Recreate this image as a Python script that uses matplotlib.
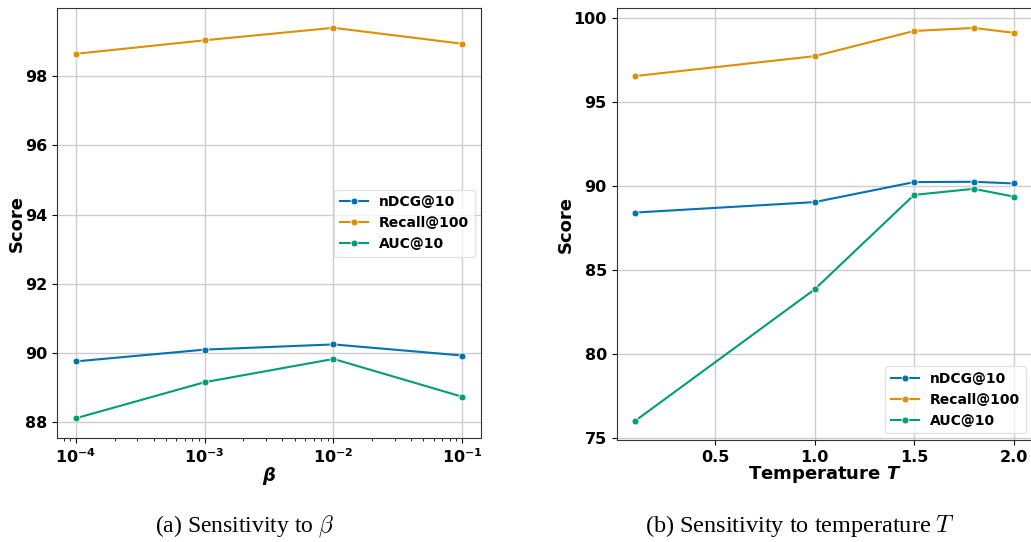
import matplotlib
matplotlib.use("Agg")
import matplotlib.pyplot as plt
import numpy as np

# sensitivity to beta
betas = [1e-4, 1e-3, 1e-2, 1e-1]
beta_ndcg = [89.76, 90.10, 90.25, 89.93]
beta_recall = [98.64, 99.03, 99.39, 98.93]
beta_auc = [88.12, 89.16, 89.83, 88.74]

# sensitivity to temperature
temps = [0.1, 1.0, 1.5, 1.8, 2.0]
temp_ndcg = [88.40, 89.02, 90.21, 90.23, 90.13]
temp_recall = [96.52, 97.70, 99.20, 99.38, 99.09]
temp_auc = [76.02, 83.83, 89.45, 89.81, 89.35]

metrics = ["nDCG@10", "Recall@100", "AUC@10"]
colors = ["#0173B2", "#DE8F05", "#029E73"]

fig = plt.figure(figsize=(10.31, 5.42), dpi=100)
ax1 = fig.add_axes([0.055, 0.1924, 0.412, 0.7923])
ax2 = fig.add_axes([0.598, 0.1876, 0.4035, 0.7971])


def draw(ax, x, series, loc):
    for vals, name, c in zip(series, metrics, colors):
        ax.plot(x, vals, color=c, lw=1.5, marker="o", ms=5,
                mec="white", mew=0.6, label=name)
    ax.grid(True, color="#cccccc", lw=1)
    ax.set_axisbelow(True)
    ax.set_ylabel("Score", fontsize=13, fontweight="bold", labelpad=-1)
    ax.tick_params(labelsize=11.5)
    for s in ax.spines.values():
        s.set_color("#333333")
    leg = ax.legend(loc=loc, prop={"weight": "bold", "size": 10})
    leg.get_frame().set_edgecolor("#dddddd")


draw(ax1, betas, [beta_ndcg, beta_recall, beta_auc], "center right")
ax1.set_xscale("log")
ax1.set_xticks(betas)
ax1.set_yticks([88, 90, 92, 94, 96, 98])
ax1.set_xlabel(r"$\mathbfit{\beta}$", fontsize=13, labelpad=-1)
for lab in ax1.get_xticklabels() + ax1.get_yticklabels():
    lab.set_fontweight("bold")
    lab.set_fontsize(11.5)

draw(ax2, temps, [temp_ndcg, temp_recall, temp_auc], "lower right")
ax2.set_xticks([0.5, 1.0, 1.5, 2.0])
ax2.set_yticks([75, 80, 85, 90, 95, 100])
ax2.set_xlabel(r"Temperature $\mathbfit{T}$", fontsize=13, fontweight="bold",
               labelpad=-1)
for lab in ax2.get_xticklabels() + ax2.get_yticklabels():
    lab.set_fontweight("bold")
    lab.set_fontsize(11.5)

fig.text(0.237, 0.03, r"(a) Sensitivity to $\beta$", ha="center", va="center",
         family="Liberation Serif", math_fontfamily="cm", fontsize=17)
fig.text(0.776, 0.03, r"(b) Sensitivity to temperature $T$", ha="center",
         va="center", family="Liberation Serif", math_fontfamily="cm", fontsize=17.5)

fig.savefig("out.png", dpi=100)
